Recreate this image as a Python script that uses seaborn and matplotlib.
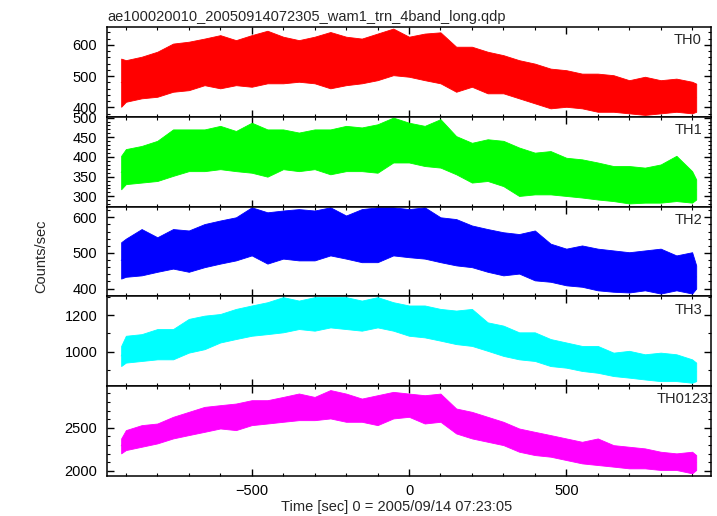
import numpy as np
import pandas as pd
import matplotlib
matplotlib.use("Agg")
import matplotlib.pyplot as plt
from matplotlib.ticker import MultipleLocator
import seaborn as sns

# time grid (sec from 2005/09/14 07:23:05), envelope of each light curve
time_s = [-915, -900, -850, -800, -750, -700, -650, -600, -550, -500, -450, -400, -350,
          -300, -250, -200, -150, -100, -50, 0, 50, 100, 150, 200, 250, 300, 350, 400,
          450, 500, 550, 600, 650, 700, 750, 800, 850, 900, 913]

th0_hi = [556, 551, 562, 578, 604, 610, 620, 631, 615, 631, 645, 626, 615, 626, 641, 626, 620, 636, 652,
          626, 636, 640, 594, 594, 578, 567, 551, 540, 524, 519, 508, 508, 503, 487, 498, 487, 492, 482, 476]
th0_lo = [402, 418, 429, 434, 450, 455, 471, 461, 471, 466, 477, 477, 482, 477, 461, 471, 477, 487, 503,
          498, 487, 477, 450, 466, 445, 445, 429, 413, 397, 402, 397, 386, 386, 381, 376, 381, 386, 381, 386]

th1_hi = [403, 420, 428, 441, 470, 470, 470, 479, 466, 487, 470, 470, 462, 470, 470, 479, 475, 483, 500,
          487, 479, 496, 453, 436, 445, 441, 424, 411, 415, 398, 394, 386, 377, 377, 373, 381, 403, 364, 343]
th1_lo = [318, 331, 335, 339, 352, 364, 364, 369, 364, 360, 350, 369, 364, 369, 356, 364, 364, 360, 386,
          386, 377, 373, 356, 335, 339, 326, 301, 305, 305, 301, 297, 292, 288, 282, 284, 284, 288, 284, 292]

th2_hi = [530, 540, 567, 544, 567, 563, 581, 591, 600, 628, 614, 619, 623, 619, 628, 605, 623, 628, 628,
          623, 628, 600, 595, 577, 567, 558, 553, 563, 526, 512, 521, 512, 507, 502, 507, 512, 493, 502, 465]
th2_lo = [428, 433, 437, 447, 456, 447, 460, 470, 479, 493, 470, 484, 479, 479, 493, 484, 474, 474, 493,
          488, 484, 474, 465, 460, 447, 437, 442, 423, 419, 409, 405, 395, 391, 389, 395, 386, 395, 386, 400]

th3_hi = [1031, 1087, 1096, 1124, 1124, 1180, 1198, 1207, 1235, 1254, 1272, 1300, 1281, 1300, 1300, 1300,
          1281, 1300, 1272, 1254, 1254, 1235, 1226, 1235, 1161, 1143, 1106, 1106, 1069, 1050, 1031, 1031,
          994, 1004, 985, 994, 985, 957, 939]
th3_lo = [920, 939, 948, 957, 957, 994, 1013, 1050, 1069, 1087, 1096, 1106, 1124, 1115, 1133, 1124,
          1115, 1133, 1115, 1087, 1078, 1060, 1041, 1031, 1004, 976, 957, 948, 920, 911, 893, 883,
          865, 856, 846, 837, 837, 828, 837]

th0123_hi = [2376, 2473, 2531, 2550, 2628, 2686, 2744, 2764, 2783, 2822, 2822, 2860, 2900, 2860, 2940,
             2899, 2841, 2880, 2919, 2899, 2880, 2899, 2725, 2686, 2628, 2570, 2492, 2453, 2415, 2376,
             2337, 2376, 2298, 2279, 2260, 2221, 2202, 2221, 2182]
th0123_lo = [2202, 2240, 2279, 2318, 2376, 2415, 2453, 2492, 2473, 2531, 2550, 2570, 2589, 2589, 2609,
             2570, 2570, 2531, 2609, 2628, 2550, 2570, 2434, 2376, 2337, 2298, 2221, 2182, 2163, 2124,
             2085, 2066, 2047, 2027, 2027, 2008, 2008, 1969, 2008]

bands = ["TH0", "TH1", "TH2", "TH3", "TH0123"]
band_hi = [th0_hi, th1_hi, th2_hi, th3_hi, th0123_hi]
band_lo = [th0_lo, th1_lo, th2_lo, th3_lo, th0123_lo]
colors = ["#ff0000", "#00ff00", "#0000ff", "#00ffff", "#ff00ff"]
ylims = [(370, 657), (274, 502), (378, 630), (809, 1304), (1938, 2985)]
major_step = [100, 50, 100, 200, 500]
minor_step = [20, 10, 20, 100, 100]
label_x = [0.985, 0.985, 0.985, 0.985, 0.996]

title = "ae100020010_20050914072305_wam1_trn_4band_long.qdp"

sns.set_style("ticks")
plt.rcParams["font.family"] = ["Liberation Sans", "DejaVu Sans"]
plt.rcParams["font.size"] = 10.5

fig, axes = plt.subplots(5, 1, figsize=(7.17, 5.16), dpi=100, sharex=True)
fig.subplots_adjust(left=107 / 717, right=711 / 717, top=1 - 27 / 516, bottom=1 - 476 / 516, hspace=0)

for i, ax in enumerate(axes):
    # long form: two rows per time (low and high edge), band = min..max
    df = pd.DataFrame({"t": time_s + time_s, "rate": band_lo[i] + band_hi[i]})
    sns.lineplot(data=df, x="t", y="rate", ax=ax, color=colors[i], linewidth=0.6,
                 estimator="mean", errorbar=("pi", 100),
                 err_kws={"alpha": 1, "linewidth": 0.6, "edgecolor": colors[i]})
    ax.set_xlim(-960, 960)
    ax.set_ylim(*ylims[i])
    ax.set_xlabel("")
    ax.set_ylabel("")
    ax.yaxis.set_major_locator(MultipleLocator(major_step[i]))
    ax.yaxis.set_minor_locator(MultipleLocator(minor_step[i]))
    ax.xaxis.set_major_locator(MultipleLocator(500))
    ax.xaxis.set_minor_locator(MultipleLocator(100))
    ax.tick_params(which="both", direction="in", top=True, right=True, colors="black")
    ax.tick_params(which="major", length=5, width=1, pad=7)
    ax.tick_params(which="minor", length=2.5, width=0.8)
    for sp in ax.spines.values():
        sp.set_linewidth(1.1)
        sp.set_color("black")
    ax.text(label_x[i], 0.93, bands[i], transform=ax.transAxes, ha="right", va="top", fontsize=10.5)

axes[-1].tick_params(axis="x", which="major", pad=6)

fig.text(107 / 717, 1 - 21 / 516, title, ha="left", va="baseline", fontsize=10.5)
fig.text(41 / 717, 1 - 256 / 516, "Counts/sec", rotation=90, ha="center", va="center", fontsize=10.5)
fig.text(397 / 717, 1 - 507 / 516, "Time [sec] 0 = 2005/09/14 07:23:05", ha="center", va="center",
         fontsize=10.5)

fig.savefig("out.png", dpi=100)
